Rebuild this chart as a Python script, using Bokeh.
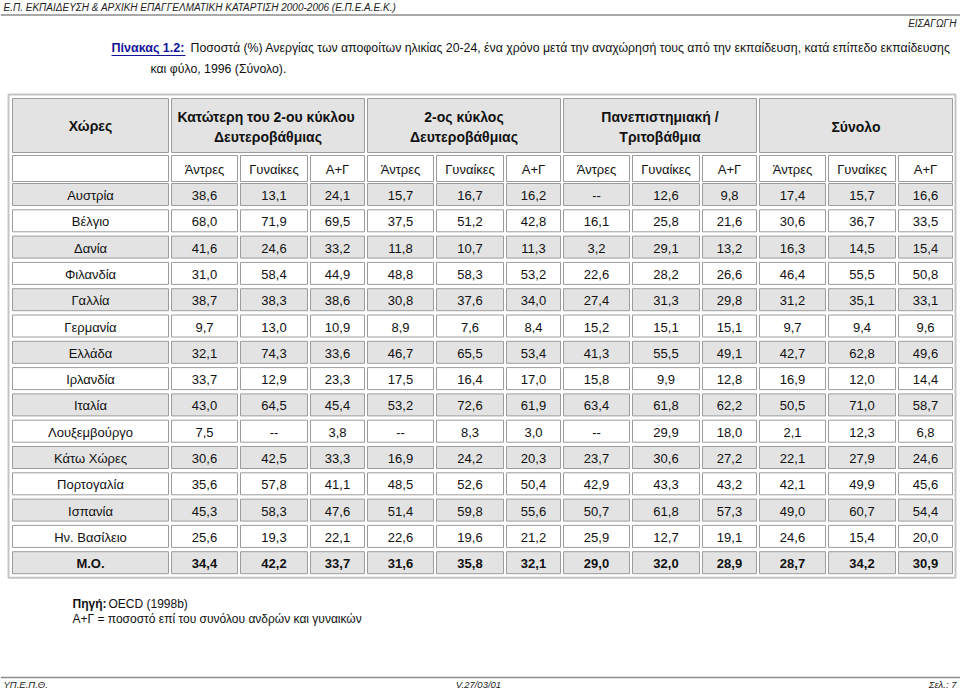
from bokeh.plotting import figure
from bokeh.models import ColumnDataSource, Range1d
from bokeh.core.properties import value
from bokeh.embed import file_html
from bokeh.resources import INLINE

# ---------------- data ----------------
countries = ["Αυστρία", "Βέλγιο", "Δανία", "Φιλανδία", "Γαλλία", "Γερμανία", "Ελλάδα",
             "Ιρλανδία", "Ιταλία", "Λουξεμβούργο", "Κάτω Χώρες", "Πορτογαλία", "Ισπανία",
             "Ην. Βασίλειο", "Μ.Ο."]
groups = ["Κατώτερη του 2-ου  κύκλου\nΔευτεροβάθμιας", "2-ος κύκλος\nΔευτεροβάθμιας",
          "Πανεπιστημιακή /\nΤριτοβάθμια", "Σύνολο"]
sub_labels = ["Άντρες", "Γυναίκες", "Α+Γ"]

low_men   = [38.6, 68.0, 41.6, 31.0, 38.7, 9.7, 32.1, 33.7, 43.0, 7.5, 30.6, 35.6, 45.3, 25.6, 34.4]
low_women = [13.1, 71.9, 24.6, 58.4, 38.3, 13.0, 74.3, 12.9, 64.5, None, 42.5, 57.8, 58.3, 19.3, 42.2]
low_all   = [24.1, 69.5, 33.2, 44.9, 38.6, 10.9, 33.6, 23.3, 45.4, 3.8, 33.3, 41.1, 47.6, 22.1, 33.7]

upp_men   = [15.7, 37.5, 11.8, 48.8, 30.8, 8.9, 46.7, 17.5, 53.2, None, 16.9, 48.5, 51.4, 22.6, 31.6]
upp_women = [16.7, 51.2, 10.7, 58.3, 37.6, 7.6, 65.5, 16.4, 72.6, 8.3, 24.2, 52.6, 59.8, 19.6, 35.8]
upp_all   = [16.2, 42.8, 11.3, 53.2, 34.0, 8.4, 53.4, 17.0, 61.9, 3.0, 20.3, 50.4, 55.6, 21.2, 32.1]

ter_men   = [None, 16.1, 3.2, 22.6, 27.4, 15.2, 41.3, 15.8, 63.4, None, 23.7, 42.9, 50.7, 25.9, 29.0]
ter_women = [12.6, 25.8, 29.1, 28.2, 31.3, 15.1, 55.5, 9.9, 61.8, 29.9, 30.6, 43.3, 61.8, 12.7, 32.0]
ter_all   = [9.8, 21.6, 13.2, 26.6, 29.8, 15.1, 49.1, 12.8, 62.2, 18.0, 27.2, 43.2, 57.3, 19.1, 28.9]

tot_men   = [17.4, 30.6, 16.3, 46.4, 31.2, 9.7, 42.7, 16.9, 50.5, 2.1, 22.1, 42.1, 49.0, 24.6, 28.7]
tot_women = [15.7, 36.7, 14.5, 55.5, 35.1, 9.4, 62.8, 12.0, 71.0, 12.3, 27.9, 49.9, 60.7, 15.4, 34.2]
tot_all   = [16.6, 33.5, 15.4, 50.8, 33.1, 9.6, 49.6, 14.4, 58.7, 6.8, 24.6, 45.6, 54.4, 20.0, 30.9]

columns = [low_men, low_women, low_all, upp_men, upp_women, upp_all,
           ter_men, ter_women, ter_all, tot_men, tot_women, tot_all]

# ---------------- layout ----------------
FONT = "Liberation Sans"
GRAY = "#e3e3e3"
EDGE = "#9c9c9c"
INK = "#111111"

label_l, label_r = 12, 168
sub_w = [66, 67, 54]
gap = 3
group_l0 = 171
hdr_top, hdr_bot = 98, 152
sub_top, sub_bot = 155, 181
row_top0, row_pitch, row_h = 183.0, 26.3, 22.0

def fmt(v):
    return "--" if v is None else ("%.1f" % v).replace(".", ",")

col_lr = []
x = group_l0
for g in range(4):
    for k in range(3):
        col_lr.append((x, x + sub_w[k]))
        x += sub_w[k] + gap
table_r = col_lr[-1][1]
table_b = row_top0 + (len(countries) - 1) * row_pitch + row_h

p = figure(width=960, height=691, output_backend="svg", toolbar_location=None,
           x_range=Range1d(0, 960), y_range=Range1d(691, 0),
           x_axis_type=None, y_axis_type=None, min_border=0)
p.grid.visible = False
p.outline_line_color = None
p.background_fill_color = "white"
p.border_fill_color = "white"

# page header / footer
p.text(x=[3], y=[7], text=["Ε.Π. ΕΚΠΑΙΔΕΥΣΗ & ΑΡΧΙΚΗ ΕΠΑΓΓΕΛΜΑΤΙΚΗ ΚΑΤΑΡΤΙΣΗ 2000-2006 (Ε.Π.Ε.Α.Ε.Κ.)"],
       text_font=value(FONT), text_font_style="italic", text_font_size="10px",
       text_baseline="middle", text_color="#222222")
p.segment(x0=[0], x1=[960], y0=[14.5], y1=[14.5], line_color="#8c8c8c", line_width=1.5)
p.text(x=[956], y=[23], text=["ΕΙΣΑΓΩΓΗ"], text_font=value(FONT), text_font_style="italic",
       text_font_size="10px", text_align="right", text_baseline="middle", text_color="#222222")

p.segment(x0=[0], x1=[960], y0=[677], y1=[677], line_color="#8c8c8c", line_width=1.5)
p.text(x=[3, 478, 956], y=[684, 684, 684], text=["ΥΠ.Ε.Π.Θ.", "V.27/03/01", "Σελ.: 7"],
       text_font=value(FONT), text_font_style="italic", text_font_size="9.5px",
       text_align=["left", "center", "right"], text_baseline="middle", text_color="#222222")

# title
tx0 = 111
p.text(x=[tx0], y=[47], text=["Πίνακας 1.2:"], text_font=value(FONT), text_font_style="bold",
       text_font_size="12.5px", text_baseline="middle", text_color="#14149a")
p.segment(x0=[tx0], x1=[tx0 + 74], y0=[55], y1=[55], line_color="#14149a", line_width=1)
p.text(x=[tx0 + 79], y=[47],
       text=["Ποσοστά (%) Ανεργίας των αποφοίτων ηλικίας 20-24, ένα χρόνο μετά την αναχώρησή τους από την εκπαίδευση, κατά επίπεδο εκπαίδευσης"],
       text_font=value(FONT), text_font_size="12.3px", text_baseline="middle", text_color=INK)
p.text(x=[150], y=[68], text=["και φύλο, 1996   (Σύνολο)."], text_font=value(FONT),
       text_font_size="12.3px", text_baseline="middle", text_color=INK)

# outer table frame
p.quad(left=[8], right=[table_r + 3], top=[94], bottom=[table_b + 4],
       fill_color=None, line_color="#c4c4c4", line_width=2)

# header rows
hl, hr, ht, hb, hf = [label_l], [label_r], [hdr_top], [hdr_bot], [GRAY]
for g in range(4):
    hl.append(col_lr[3 * g][0]); hr.append(col_lr[3 * g + 2][1])
    ht.append(hdr_top); hb.append(hdr_bot); hf.append(GRAY)
hl.append(label_l); hr.append(label_r); ht.append(sub_top); hb.append(sub_bot); hf.append("white")
for (l, r) in col_lr:
    hl.append(l); hr.append(r); ht.append(sub_top); hb.append(sub_bot); hf.append("white")
p.quad(left=hl, right=hr, top=ht, bottom=hb, fill_color=hf, line_color=EDGE, line_width=1)

p.text(x=[(label_l + label_r) / 2], y=[(hdr_top + hdr_bot) / 2], text=["Χώρες"],
       text_font=value(FONT), text_font_style="bold", text_font_size="14px",
       text_align="center", text_baseline="middle", text_color=INK)
gx, gy, gt = [], [], []
for g, name in enumerate(groups):
    gx.append((col_lr[3 * g][0] + col_lr[3 * g + 2][1]) / 2)
    gy.append((hdr_top + hdr_bot) / 2 + 1); gt.append(name)
p.text(x=gx, y=gy, text=gt, text_font=value(FONT), text_font_style="bold", text_font_size="14px",
       text_align="center", text_baseline="middle", text_line_height=1.25, text_color=INK)
sx, sy, st = [], [], []
for i, (l, r) in enumerate(col_lr):
    sx.append((l + r) / 2); sy.append((sub_top + sub_bot) / 2 + 1); st.append(sub_labels[i % 3])
p.text(x=sx, y=sy, text=st, text_font=value(FONT), text_font_size="13px",
       text_align="center", text_baseline="middle", text_color=INK)

# data cells
cl, cr, ct, cb, cf = [], [], [], [], []
tx, ty, tt, tw = [], [], [], []
for i, c in enumerate(countries):
    top = row_top0 + i * row_pitch
    fill = GRAY if i % 2 == 0 else "white"
    weight = "bold" if c == "Μ.Ο." else "normal"
    cl.append(label_l); cr.append(label_r); ct.append(top); cb.append(top + row_h); cf.append(fill)
    tx.append((label_l + label_r) / 2); ty.append(top + row_h / 2 + 1); tt.append(c); tw.append(weight)
    for j, (l, r) in enumerate(col_lr):
        cl.append(l); cr.append(r); ct.append(top); cb.append(top + row_h); cf.append(fill)
        tx.append((l + r) / 2); ty.append(top + row_h / 2 + 1); tt.append(fmt(columns[j][i])); tw.append(weight)
p.quad(left=cl, right=cr, top=ct, bottom=cb, fill_color=cf, line_color=EDGE, line_width=1)
src = ColumnDataSource(dict(x=tx, y=ty, t=tt, w=tw))
p.text(x="x", y="y", text="t", text_font_style="w", source=src, text_font=value(FONT),
       text_font_size="13px", text_align="center", text_baseline="middle", text_color=INK)

# notes
p.text(x=[72], y=[603], text=["Πηγή:"], text_font=value(FONT), text_font_style="bold",
       text_font_size="12px", text_baseline="middle", text_color=INK)
p.text(x=[108], y=[603], text=["OECD (1998b)"], text_font=value(FONT),
       text_font_size="12px", text_baseline="middle", text_color=INK)
p.text(x=[72], y=[618], text=["Α+Γ = ποσοστό επί του συνόλου ανδρών και γυναικών"],
       text_font=value(FONT), text_font_size="12px", text_baseline="middle", text_color=INK)

open("out.html", "w").write(file_html(p, INLINE))
